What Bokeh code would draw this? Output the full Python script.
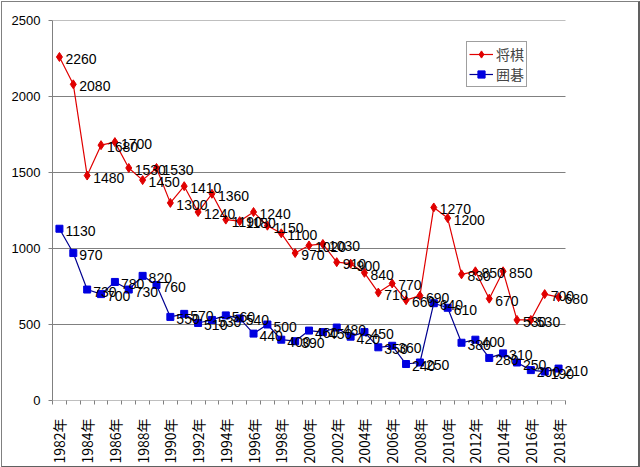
from bokeh.plotting import figure
from bokeh.models import ColumnDataSource, FixedTicker, Legend, LegendItem, LabelSet
from bokeh.layouts import column
from bokeh.core.properties import value
from bokeh.embed import file_html
from bokeh.resources import INLINE
import math

years = [1982, 1983, 1984, 1985, 1986, 1987, 1988, 1989, 1990, 1991,
         1992, 1993, 1994, 1995, 1996, 1997, 1998, 1999, 2000, 2001,
         2002, 2003, 2004, 2005, 2006, 2007, 2008, 2009, 2010, 2011,
         2012, 2013, 2014, 2015, 2016, 2017, 2018]
shogi = [2260, 2080, 1480, 1680, 1700, 1530, 1450, 1530, 1300, 1410,
         1240, 1360, 1190, 1180, 1240, 1150, 1100, 970, 1020, 1030,
         910, 900, 840, 710, 770, 660, 690, 1270, 1200, 830,
         850, 670, 850, 530, 530, 700, 680]
igo = [1130, 970, 730, 700, 780, 730, 820, 760, 550, 570,
       510, 530, 560, 540, 440, 500, 400, 390, 460, 450,
       480, 420, 450, 350, 360, 240, 250, 640, 610, 380,
       400, 280, 310, 250, 200, 190, 210]
series_names = ["将棋", "囲碁"]
y_ticks = [0, 500, 1000, 1500, 2000, 2500]
label_years = [1982, 1984, 1986, 1988, 1990, 1992, 1994, 1996, 1998, 2000,
               2002, 2004, 2006, 2008, 2010, 2012, 2014, 2016, 2018]

FONT = "Noto Sans CJK JP"
LFONT = "Liberation Sans"

# layout: plot area 513 px for the categories, extra room on the right for labels
AREA_W = 513
FRAME_W = 580
x0 = years[0] - 0.5
x1 = years[-1] + 0.5
x_end = x0 + FRAME_W * (x1 - x0) / AREA_W

src_s = ColumnDataSource(dict(x=years, y=shogi, t=[str(v) for v in shogi]))
src_i = ColumnDataSource(dict(x=years, y=igo, t=[str(v) for v in igo]))

p = figure(frame_width=FRAME_W, frame_height=380,
           min_border_left=50, min_border_right=636 - 50 - FRAME_W,
           min_border_top=18, min_border_bottom=65,
           x_range=(x0, x_end), y_range=(0, 2500),
           output_backend="svg", toolbar_location=None)
p.outline_line_color = None
p.background_fill_color = "white"
p.border_fill_color = "white"

# grid lines limited to the plot area
p.xgrid.grid_line_color = None
p.ygrid.grid_line_color = None
p.segment(x0=[x0] * (len(y_ticks) - 1), x1=[x1] * (len(y_ticks) - 1),
          y0=y_ticks[1:], y1=y_ticks[1:], line_color="#808080", line_width=1)
# category axis line
p.segment(x0=[x0], x1=[x1], y0=[y_ticks[0]], y1=[y_ticks[0]],
          line_color="#808080", line_width=1)

# series
r1l = p.line("x", "y", source=src_s, line_color="#e00000", line_width=1.2)
r1m = p.scatter("x", "y", source=src_s, marker="diamond", size=9,
                fill_color="#e00000", line_color="#e00000")
r2l = p.line("x", "y", source=src_i, line_color="#000090", line_width=1.2)
r2m = p.scatter("x", "y", source=src_i, marker="square", size=7,
                fill_color="#0000e0", line_color="#0000e0")

for src in (src_s, src_i):
    p.add_layout(LabelSet(x="x", y="y", text="t", source=src, x_offset=6, y_offset=-2,
                          text_baseline="middle", text_align="left",
                          text_font=value(LFONT), text_font_size="14px",
                          text_color="black"))

# axes
p.yaxis.ticker = FixedTicker(ticks=y_ticks)
p.yaxis.axis_line_color = "#808080"
p.yaxis.major_tick_line_color = "#808080"
p.yaxis.major_tick_out = 4
p.yaxis.major_tick_in = 0
p.yaxis.minor_tick_line_color = None
p.yaxis.major_label_text_font = LFONT
p.yaxis.major_label_text_font_size = "13px"
p.yaxis.major_label_text_color = "black"
p.yaxis.major_label_standoff = 8

p.xaxis.ticker = FixedTicker(ticks=label_years,
                             minor_ticks=[y - 0.5 for y in years] + [x1])
p.xaxis.major_tick_line_color = None
p.xaxis.minor_tick_line_color = "#808080"
p.xaxis.minor_tick_out = 4
p.xaxis.minor_tick_in = 0
p.xaxis.axis_line_color = None
p.xaxis.major_label_overrides = {y: f"{y}年" for y in label_years}
p.xaxis.major_label_orientation = math.pi / 2
p.xaxis.major_label_text_font = FONT
p.xaxis.major_label_text_font_size = "14px"
p.xaxis.major_label_text_color = "black"
p.xaxis.major_label_standoff = 12

legend = Legend(items=[LegendItem(label=series_names[0], renderers=[r1l, r1m]),
                       LegendItem(label=series_names[1], renderers=[r2l, r2m])],
                location=(414, 313))
legend.border_line_color = "#404040"
legend.border_line_width = 1
legend.padding = 2
legend.margin = 0
legend.spacing = 0
legend.glyph_width = 24
legend.glyph_height = 18
legend.label_text_font = FONT
legend.label_text_font_size = "14px"
legend.label_standoff = 3
legend.background_fill_alpha = 1
p.add_layout(legend)

layout = column(p, styles={"border-left": "1px solid #808080",
                           "border-top": "1px solid #808080",
                           "border-right": "2px solid #606060",
                           "border-bottom": "2px solid #606060",
                           "margin-left": "1px", "margin-top": "1px",
                           "background": "white"})

open("out.html", "w").write(file_html(layout, INLINE))
